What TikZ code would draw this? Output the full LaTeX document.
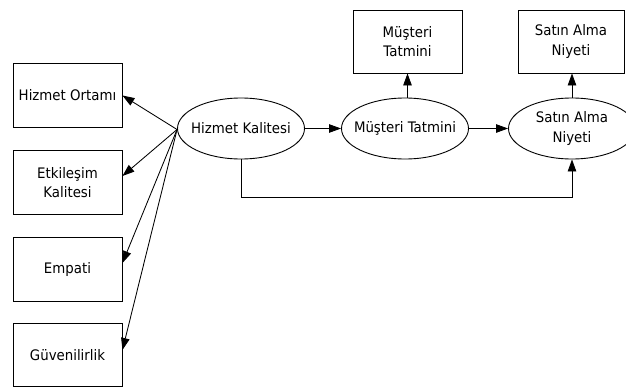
\documentclass[tikz,border=0pt]{standalone}
\usepackage{fontspec}
\setmainfont{DejaVu Sans}[FakeStretch=0.92]
\usetikzlibrary{shapes.geometric,arrows.meta}
\begin{document}
\begin{tikzpicture}[x=1pt,y=-1pt,
  every node/.style={font=\fontsize{14.5}{19.5}\selectfont, align=center, line width=0.9pt},
  latent/.style={draw, ellipse, minimum width=127pt, minimum height=61pt, inner sep=0pt,
    label={[align=center]center:#1}},
  itembox/.style={draw, rectangle, minimum width=109pt, minimum height=64pt, inner sep=0pt},
  arr/.style={line width=0.85pt, -{Triangle[length=12pt,width=8.5pt]}}]
\useasboundingbox (0,0) rectangle (626,388);

% constructs (fixed-size ellipses, text set as centred labels)
\node[latent={Hizmet Kalitesi}] (hk) at (241,128.5) {};
\node[latent={Müşteri Tatmini}] (mt) at (405,128.5) {};
\node[latent={Satın Alma\\Niyeti}] (sa) at (572,128.5) {};

% service quality dimensions
\node[itembox] (ho) at (67.5,95.5) {Hizmet Ortamı};
\node[itembox] (ek) at (67.5,182.5) {Etkileşim\\Kalitesi};
\node[itembox] (em) at (67.5,269) {Empati};
\node[itembox, minimum height=63pt] (gu) at (67.5,355) {Güvenilirlik};

% outcome indicators
\node[itembox, minimum height=63pt] (mtb) at (407.5,41.5) {Müşteri\\Tatmini};
\node[itembox, minimum width=106pt, minimum height=63pt] (sab) at (571,41.5) {Satın Alma\\Niyeti};

% paths
\draw[arr] ([yshift=-1pt]hk.west) -- (ho.east);
\draw[arr] ([yshift=-1pt]hk.west) -- ([yshift=6.5pt]ek.east);
\draw[arr] ([yshift=-1pt]hk.west) -- ([yshift=6pt]em.east);
\draw[arr] ([yshift=-1pt]hk.west) -- ([yshift=5pt]gu.east);

\draw[arr] (hk.east) -- (mt.west);
\draw[arr] (mt.east) -- (sa.west);
\draw[arr] (mt.north -| mtb.south) -- (mtb.south);
\draw[arr] (sa.north) -- (sab.south -| sa.north);
\draw[arr] (hk.south) -- ++(0,37.5) -| (sa.south);
\end{tikzpicture}
\end{document}
